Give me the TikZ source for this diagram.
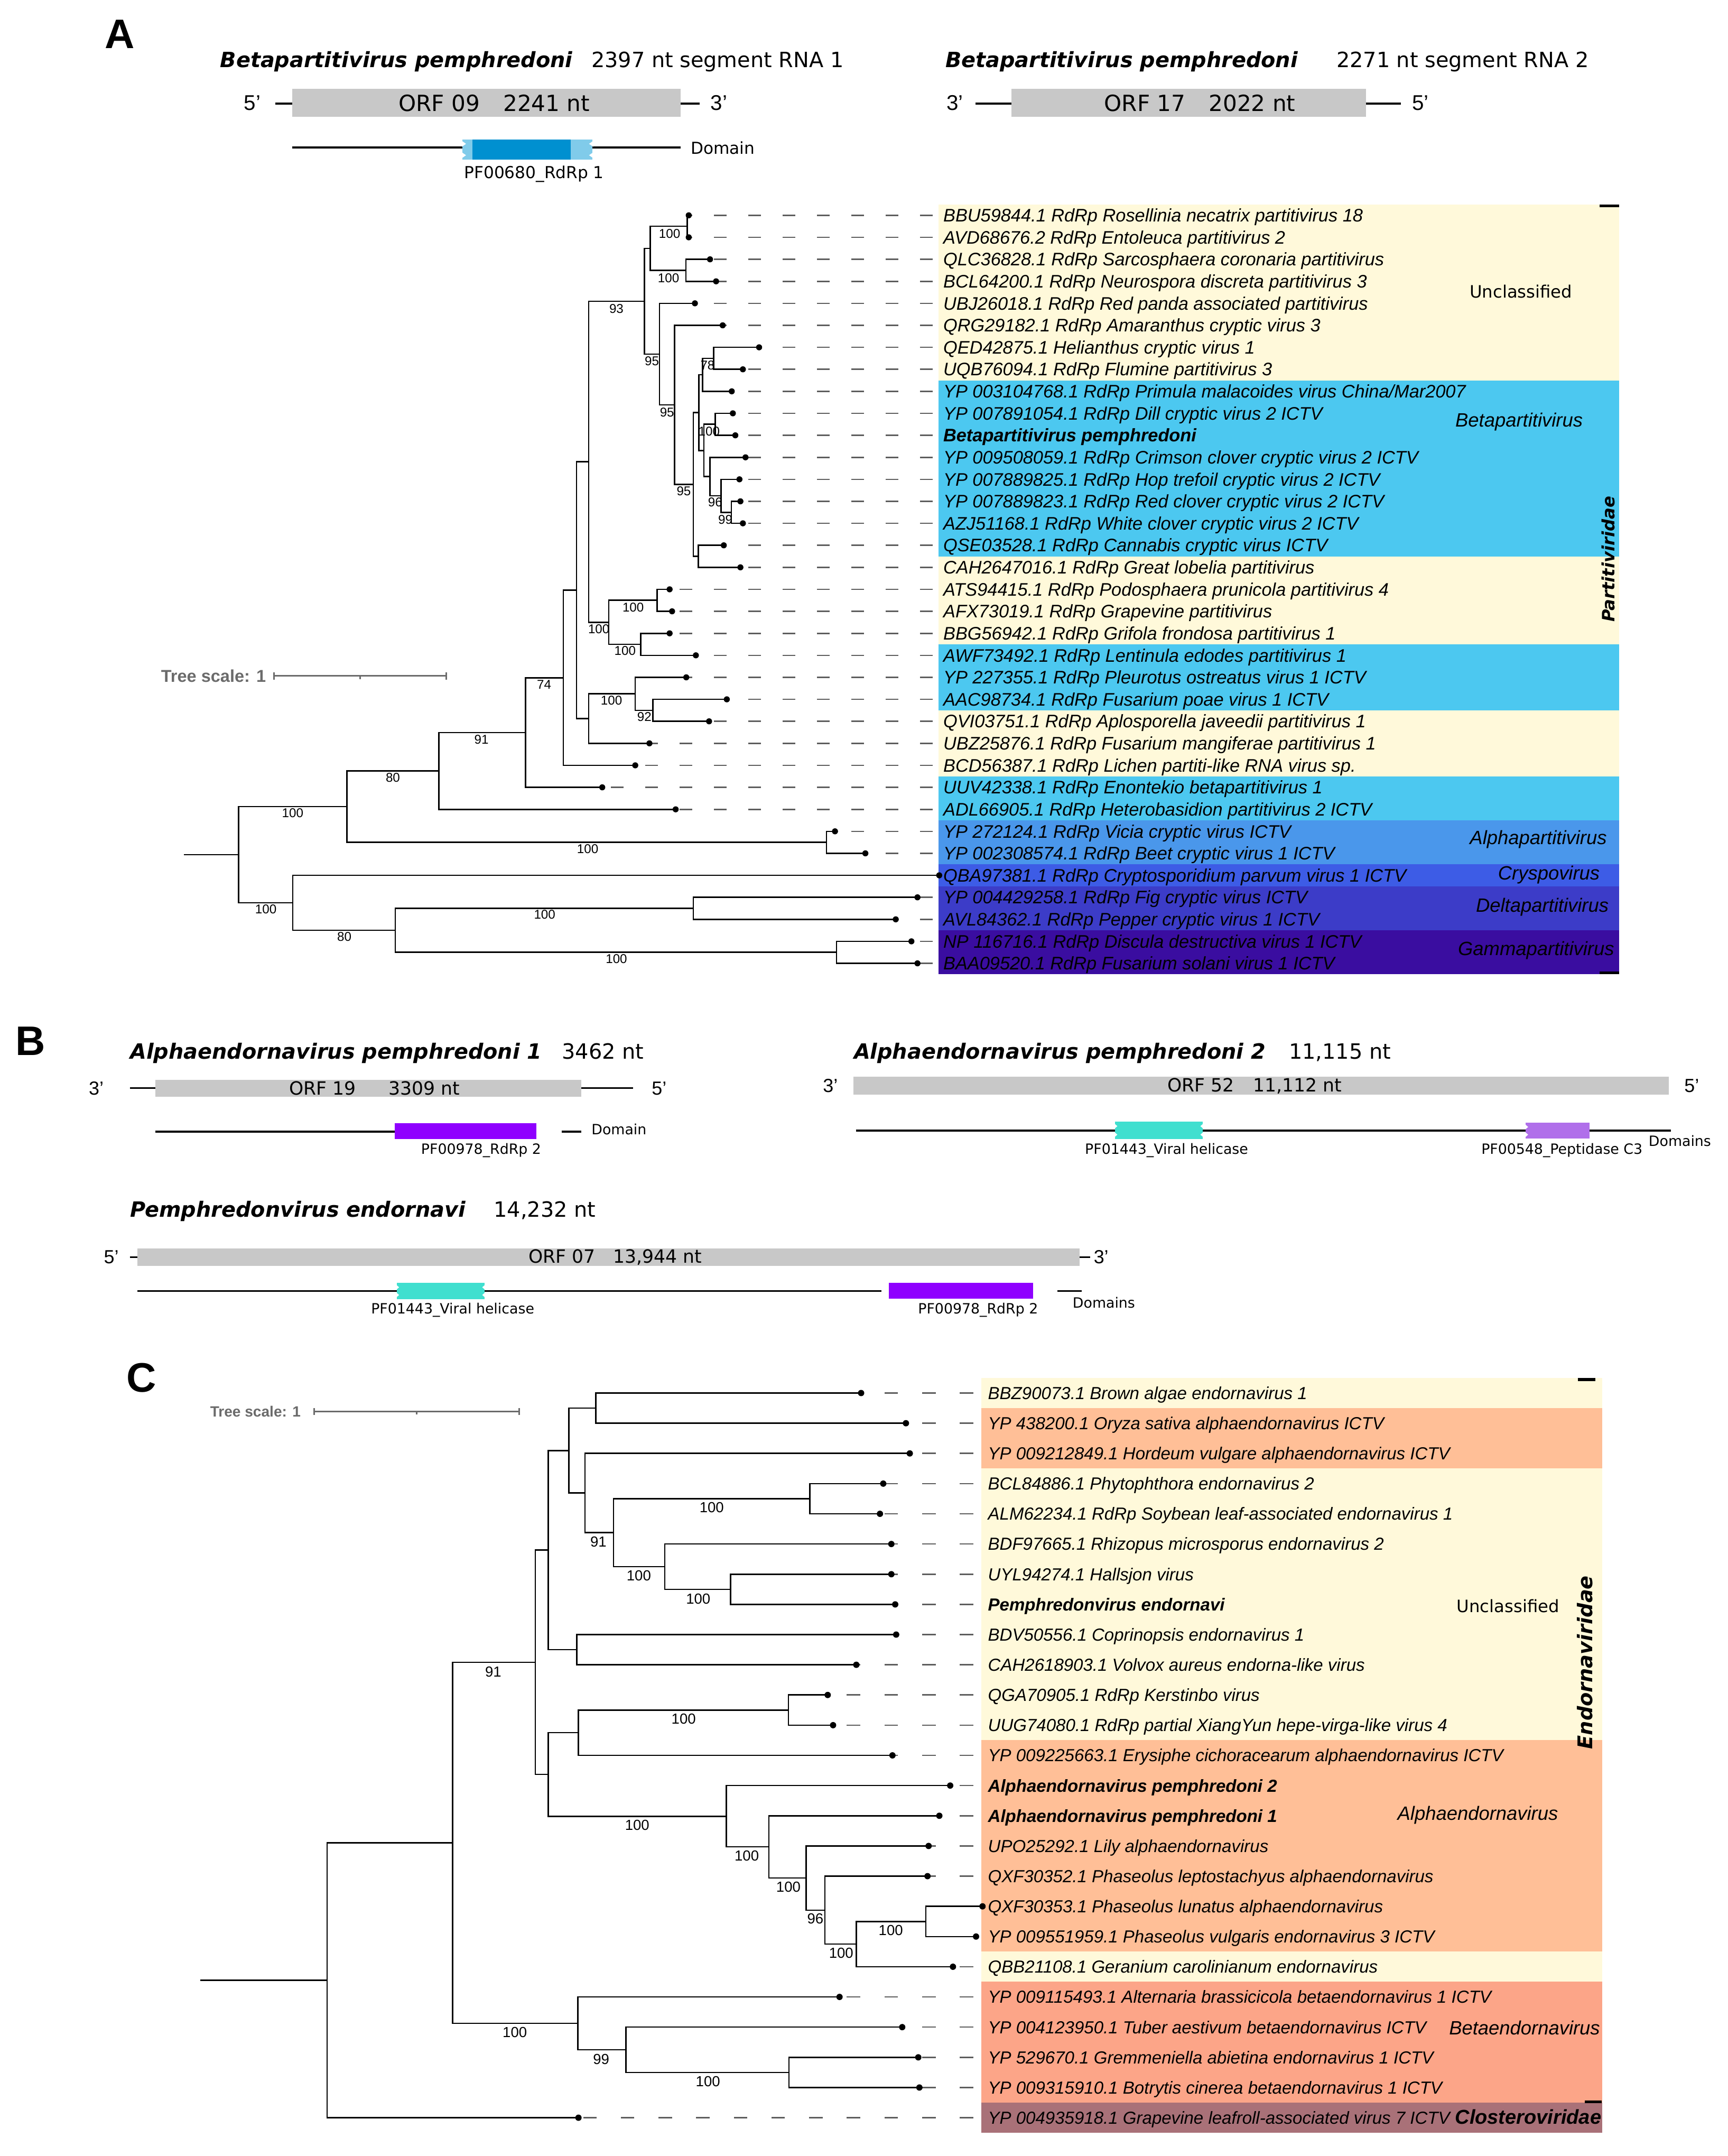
\documentclass[tikz,border=0pt]{standalone}
\usepackage{fontspec}
\setmainfont{Liberation Sans}
\newfontfamily\dvs{DejaVu Sans}
\newcommand\fsz[1]{\fontsize{#1}{#1}\selectfont}
\usetikzlibrary{calc}
\definecolor{cream}{HTML}{FFF9DA}
\definecolor{cyanb}{HTML}{4CC8F0}
\definecolor{alphab}{HTML}{4A97EB}
\definecolor{cryspob}{HTML}{3D5CE6}
\definecolor{deltab}{HTML}{3C3CC8}
\definecolor{gammab}{HTML}{3A0DA0}
\definecolor{orangeb}{HTML}{FFBF97}
\definecolor{salmonb}{HTML}{FCA588}
\definecolor{closb}{HTML}{A97178}
\definecolor{orfgray}{HTML}{C8C8C8}
\definecolor{rdrp}{HTML}{8F00FF}
\definecolor{helic}{HTML}{40DFCF}
\definecolor{pept}{HTML}{B06FEA}
\definecolor{pfblue}{HTML}{0090D0}
\definecolor{pflight}{HTML}{80CBEA}
\definecolor{dashgray}{HTML}{5E5E5E}
\definecolor{scgray}{HTML}{6B6B6B}
\begin{document}
\begin{tikzpicture}[x=1pt,y=-1pt,
  br/.style={line width=1pt},
  ldrA/.style={draw=dashgray, line width=1pt, dash pattern=on 9.2pt off 15.8pt},
  ldrC/.style={draw=dashgray, line width=1pt, dash pattern=on 9.8pt off 17.6pt},
  lblA/.style={anchor=base west, inner sep=0pt, font=\fsz{13.2}\itshape},
  lblC/.style={anchor=base west, inner sep=0pt, font=\fsz{12.7}\itshape},
  bsA/.style={inner sep=0pt, font=\fsz{9.3}},
  bsC/.style={inner sep=0pt, font=\fsz{10.6}},
  clade/.style={inner sep=0pt, font=\fsz{14}\itshape},
  uncl/.style={inner sep=0pt, font=\dvs\fsz{12.4}},
  hdr/.style={anchor=base west, inner sep=0pt, font=\dvs\fsz{15.3}},
  hdrb/.style={anchor=base west, inner sep=0pt, font=\dvs\fsz{15.3}\bfseries\itshape},
  orftA/.style={inner sep=0pt, font=\dvs\fsz{16.2}},
  orftB/.style={inner sep=0pt, font=\dvs\fsz{13.3}},
  primeA/.style={inner sep=0pt, font=\fsz{15.5}},
  primeB/.style={inner sep=0pt, font=\fsz{13.8}},
  domA/.style={inner sep=0pt, font=\dvs\fsz{12}},
  domB/.style={inner sep=0pt, font=\dvs\fsz{10.3}},
  letter/.style={inner sep=0pt, font=\fsz{30}\bfseries},
  scbar/.style={draw=scgray, line width=1.2pt},
  trk/.style={line width=1.6pt},
  trkB/.style={line width=1.3pt},
  notch/.style={fill=white},
]
\fill[white] (0,0) rectangle (1257,1568);
\useasboundingbox (0,0) rectangle (1257,1568);

%================ A header =================
\node[letter] (letA) at (87,25) {A};
\node[hdrb] (hA1) at (160,49.2) {Betapartitivirus pemphredoni};
\node[hdr] (hA2) at (430,49.2) {2397 nt segment RNA 1};
\node[hdrb] (hA3) at (687.5,49.2) {Betapartitivirus pemphredoni};
\node[hdr] (hA4) at (972,49.2) {2271 nt segment RNA 2};
% ORF 09
\fill[orfgray] (212.4,64.5) rectangle (495.2,85);
\draw[trk] (200.4,75.4) -- (212.4,75.4);
\draw[trk] (495.2,75.4) -- (508.8,75.4);
\node[primeA] (p5a) at (183.5,74.8) {5'};
\node[primeA] (p3a) at (523,74.8) {3'};
\node[orftA] (orf09) at (359.5,75) {ORF 09\hspace{17pt}2241 nt};
% ORF 17
\fill[orfgray] (735.6,64.5) rectangle (993.5,85);
\draw[trk] (709.6,75.4) -- (735.6,75.4);
\draw[trk] (993.5,75.4) -- (1019,75.4);
\node[primeA] (p3b) at (694.6,74.8) {3'};
\node[primeA] (p5b) at (1033.3,74.8) {5'};
\node[orftA] (orf17) at (872.8,75) {ORF 17\hspace{17pt}2022 nt};
% domain
\draw[trk] (212.4,107.1) -- (495.2,107.1);
\fill[pflight] (336.5,101.5) rectangle (431,116);
\fill[pfblue] (343.5,101.5) rectangle (415,116);
\fill[notch] (336,102.5) -- (339,104.6) -- (336,106.7) -- cycle;
\fill[notch] (336,110.8) -- (339,112.9) -- (336,115) -- cycle;
\fill[notch] (431.5,102.5) -- (428.5,104.6) -- (431.5,106.7) -- cycle;
\fill[notch] (431.5,110.8) -- (428.5,112.9) -- (431.5,115) -- cycle;
\node[domA] (dA1) at (525.7,107.6) {Domain};
\node[domA] (dA2) at (388.5,126.5) {PF00680\_RdRp 1};

%================ Tree A bands =================
\fill[cream]   (682.8,148.6) rectangle (1178,276.6);
\fill[cyanb]   (682.8,276.6) rectangle (1178,404.6);
\fill[cream]   (682.8,404.6) rectangle (1178,468.6);
\fill[cyanb]   (682.8,468.6) rectangle (1178,516.6);
\fill[cream]   (682.8,516.6) rectangle (1178,564.6);
\fill[cyanb]   (682.8,564.6) rectangle (1178,596.6);
\fill[alphab]  (682.8,596.6) rectangle (1178,628.6);
\fill[cryspob] (682.8,628.6) rectangle (1178,644.6);
\fill[deltab]  (682.8,644.6) rectangle (1178,676.6);
\fill[gammab]  (682.8,676.6) rectangle (1178,708.6);
\draw[line width=2pt] (1163.5,149.6) -- (1178,149.6);
\draw[line width=2pt] (1163.5,707.4) -- (1178,707.4);

\node[uncl] (clA1) at (1106.4,212) {Unclassified};
\node[clade] (clA2) at (1105,306.9) {Betapartitivirus};
\node[clade] (clA3) at (1119,610.4) {Alphapartitivirus};
\node[clade] (clA4) at (1126.7,636.2) {Cryspovirus};
\node[clade] (clA5) at (1121.9,659.8) {Deltapartitivirus};
\node[clade] (clA6) at (1117.4,691) {Gammapartitivirus};
\node[inner sep=0pt, font=\dvs\fsz{12.4}\bfseries\itshape, rotate=90] (famA) at (1170,406.7) {Partitiviridae};

% tree scale A
\node[anchor=west, inner sep=0pt, text=scgray, font=\fsz{12.5}\bfseries] (tsA) at (117,491.6) {Tree scale: 1};
\draw[scbar] (199.4,491.6) -- (324.5,491.6);
\draw[scbar] (199.4,489) -- (199.4,494.2);
\draw[scbar] (324.5,489) -- (324.5,494.2);
\draw[scbar] (262,491.6) -- (262,493.8);

%================ Tree A tips =================
\foreach \i/\tx/\txt in {
1/501/{BBU59844.1 RdRp Rosellinia necatrix partitivirus 18},
2/501/{AVD68676.2 RdRp Entoleuca partitivirus 2},
3/516.5/{QLC36828.1 RdRp Sarcosphaera coronaria partitivirus},
4/520.9/{BCL64200.1 RdRp Neurospora discreta partitivirus 3},
5/505.5/{UBJ26018.1 RdRp Red panda associated partitivirus},
6/525.7/{QRG29182.1 RdRp Amaranthus cryptic virus 3},
7/552.2/{QED42875.1 Helianthus cryptic virus 1},
8/540.4/{UQB76094.1 RdRp Flumine partitivirus 3},
9/532.3/{YP 003104768.1 RdRp Primula malacoides virus China/Mar2007},
10/533.1/{YP 007891054.1 RdRp Dill cryptic virus 2 ICTV},
11/534.9/{\bfseries Betapartitivirus pemphredoni},
12/542.3/{YP 009508059.1 RdRp Crimson clover cryptic virus 2 ICTV},
13/537.9/{YP 007889825.1 RdRp Hop trefoil cryptic virus 2 ICTV},
14/538.6/{YP 007889823.1 RdRp Red clover cryptic virus 2 ICTV},
15/540.4/{AZJ51168.1 RdRp White clover cryptic virus 2 ICTV},
16/526.5/{QSE03528.1 RdRp Cannabis cryptic virus ICTV},
17/538.6/{CAH2647016.1 RdRp Great lobelia partitivirus},
18/487.1/{ATS94415.1 RdRp Podosphaera prunicola partitivirus 4},
19/488.9/{AFX73019.1 RdRp Grapevine partitivirus},
20/487.1/{BBG56942.1 RdRp Grifola frondosa partitivirus 1},
21/506.2/{AWF73492.1 RdRp Lentinula edodes partitivirus 1},
22/499.2/{YP 227355.1 RdRp Pleurotus ostreatus virus 1 ICTV},
23/528.7/{AAC98734.1 RdRp Fusarium poae virus 1 ICTV},
24/515.8/{QVI03751.1 RdRp Aplosporella javeedii partitivirus 1},
25/472.4/{UBZ25876.1 RdRp Fusarium mangiferae partitivirus 1},
26/462.1/{BCD56387.1 RdRp Lichen partiti-like RNA virus sp.},
27/438.1/{UUV42338.1 RdRp Enontekio betapartitivirus 1},
28/491.5/{ADL66905.1 RdRp Heterobasidion partitivirus 2 ICTV},
29/607.4/{YP 272124.1 RdRp Vicia cryptic virus ICTV},
30/629.5/{YP 002308574.1 RdRp Beet cryptic virus 1 ICTV},
31/683.2/{QBA97381.1 RdRp Cryptosporidium parvum virus 1 ICTV},
32/667.4/{YP 004429258.1 RdRp Fig cryptic virus ICTV},
33/651.6/{AVL84362.1 RdRp Pepper cryptic virus 1 ICTV},
34/663/{NP 116716.1 RdRp Discula destructiva virus 1 ICTV},
35/667.4/{BAA09520.1 RdRp Fusarium solani virus 1 ICTV}}{
  \pgfmathsetmacro\yy{156.6+16*(\i-1)}
  \coordinate (tA\i) at (\tx,\yy);
  \node[lblA] (LA\i) at (686,\yy+4.7) {\txt};
}
\foreach \i in {1,...,30,32,33,34,35}
  \draw[ldrA] ([xshift=-7.5pt]LA\i.west |- tA\i) -- (tA\i);

% internal nodes A
\coordinate (n12) at (500,164.6);
\coordinate (n34) at (498.9,196.6);
\coordinate (n1234) at (473.1,180.6);
\coordinate (n1097) at (519.1,260.6);
\coordinate (n1075) at (511,272.6);
\coordinate (n1100) at (520.2,308.6);
\coordinate (n1132) at (532,372.6);
\coordinate (n1112) at (524.6,360.6);
\coordinate (n1090) at (516.5,346.6);
\coordinate (n1078) at (512.1,327.6);
\coordinate (n1068) at (508.4,300.1);
\coordinate (n1067) at (508.1,404.6);
\coordinate (n1057) at (504.4,352.35);
\coordinate (n1020) at (490.8,294.5);
\coordinate (n990) at (479.7,257.5);
\coordinate (n960) at (468.7,219.1);
\coordinate (n985) at (477.9,436.6);
\coordinate (n953) at (466.1,468.6);
\coordinate (n890) at (442.9,452.6);
\coordinate (n850) at (428.2,335.85);
\coordinate (n977) at (474.9,516.6);
\coordinate (n942) at (462.1,504.6);
\coordinate (n850b) at (428.2,522.6);
\coordinate (n826) at (419.4,429.2);
\coordinate (n800) at (409.8,492.9);
\coordinate (n725) at (382.2,532.75);
\coordinate (n554) at (319.3,560.7);
\coordinate (n1320) at (601.2,612.6);
\coordinate (n372) at (252.3,586.6);
\coordinate (n1057b) at (504.4,660.6);
\coordinate (n1340) at (608.5,692.6);
\coordinate (n468) at (287.6,676.6);
\coordinate (n265) at (212.9,656.6);
\coordinate (n158) at (173.5,621.6);
\coordinate (rootA) at (133.8,621.6);

\foreach \p/\c in {n12/tA1, n12/tA2, n34/tA3, n34/tA4, n1234/n12, n1234/n34,
  n1097/tA7, n1097/tA8, n1075/n1097, n1075/tA9, n1100/tA10, n1100/tA11,
  n1132/tA14, n1132/tA15, n1112/tA13, n1112/n1132, n1090/tA12, n1090/n1112,
  n1078/n1100, n1078/n1090, n1068/n1075, n1068/n1078, n1067/tA16, n1067/tA17,
  n1057/n1068, n1057/n1067, n1020/tA6, n1020/n1057, n990/tA5, n990/n1020,
  n960/n1234, n960/n990, n985/tA18, n985/tA19, n953/tA20, n953/tA21,
  n890/n985, n890/n953, n850/n960, n850/n890, n977/tA23, n977/tA24,
  n942/tA22, n942/n977, n850b/n942, n850b/tA25, n826/n850, n826/n850b,
  n800/n826, n800/tA26, n725/n800, n725/tA27, n554/n725, n554/tA28,
  n1320/tA29, n1320/tA30, n372/n554, n372/n1320, n1057b/tA32, n1057b/tA33,
  n1340/tA34, n1340/tA35, n468/n1057b, n468/n1340, n265/tA31, n265/n468,
  n158/n372, n158/n265}
  \draw[br] (\p) |- (\c);
\draw[br] (rootA) -- (n158);
\foreach \i in {1,...,35} \fill (tA\i) circle (2.2pt);

\foreach \x/\y/\t [count=\k] in {487.1/170/100, 486.3/202.3/100, 448.4/224.7/93,
  474.2/262.6/95, 514.7/265.5/78, 485.2/299.9/95, 515.8/313.8/100, 497.4/357.2/95,
  520.2/365.2/96, 527.6/377.8/99, 460.6/441.7/100, 435.6/457.6/100, 454.7/473.4/100,
  395.8/497.7/74, 444.8/509.4/100, 468.7/521.3/92, 350.2/537.7/91, 285.8/565.7/80,
  212.9/591.4/100, 427.5/617.3/100, 193.4/661.3/100, 396.2/665.1/100, 250.5/681.3/80,
  448.4/697.2/100}
  \node[bsA] (bsa\k) at (\x,\y) {\t};

%================ B =================
\node[letter] (letB) at (22,757) {B};
\node[hdrb] (hB1) at (94.5,770) {Alphaendornavirus pemphredoni 1};
\node[hdr] (hB2) at (408.6,770) {3462 nt};
\node[hdrb] (hB3) at (621,770) {Alphaendornavirus pemphredoni 2};
\node[hdr] (hB4) at (937.5,770) {11,115 nt};
\node[hdrb] (hB5) at (94.5,885) {Pemphredonvirus endornavi};
\node[hdr] (hB6) at (359,885) {14,232 nt};

% ORF 19
\fill[orfgray] (113,785.2) rectangle (423,797.6);
\draw[trkB] (94.5,791.4) -- (113,791.4);
\draw[trkB] (423,791.4) -- (460.7,791.4);
\node[primeB] (p3c) at (70,791.5) {3'};
\node[primeB] (p5c) at (479.5,791.5) {5'};
\node[orftB] (orf19a) at (234.8,791.5) {ORF 19};
\node[orftB] (orf19b) at (308.5,791.5) {3309 nt};
\draw[trkB] (113,823) -- (287,823);
\fill[rdrp] (287,817) rectangle (390,828.4);
\draw[trkB] (408.6,823) -- (423,823);
\node[domB] (dB1) at (450.3,821.2) {Domain};
\node[domB] (dB2) at (350,836.7) {PF00978\_RdRp 2};

% ORF 52
\fill[orfgray] (621,783) rectangle (1214,796);
\node[primeB] (p3d) at (604,789.5) {3'};
\node[primeB] (p5d) at (1230.6,789.5) {5'};
\node[orftB] (orf52) at (912.7,790) {ORF 52\hspace{14pt}11,112 nt};
\draw[trkB] (622.6,822.3) -- (1215.6,822.3);
\fill[helic] (811,815.8) rectangle (875,828.2);
\fill[notch] (810.5,817) -- (812.8,819) -- (810.5,821) -- cycle;
\fill[notch] (810.5,823.2) -- (812.8,825.2) -- (810.5,827.2) -- cycle;
\fill[notch] (875.5,817) -- (873.2,819) -- (875.5,821) -- cycle;
\fill[notch] (875.5,823.2) -- (873.2,825.2) -- (875.5,827.2) -- cycle;
\fill[pept] (1109.8,816.5) rectangle (1156.3,828);
\fill[notch] (1109.3,817.6) -- (1111.6,819.6) -- (1109.3,821.6) -- cycle;
\fill[notch] (1109.3,823.2) -- (1111.6,825.2) -- (1109.3,827.2) -- cycle;
\node[domB] (dB3) at (1222,829.6) {Domains};
\node[domB] (dB4) at (848.6,836.7) {PF01443\_Viral helicase};
\node[domB] (dB5) at (1136.2,836.7) {PF00548\_Peptidase C3};

% ORF 07
\fill[orfgray] (100,907.9) rectangle (785.3,920.5);
\draw[trkB] (94.5,914.2) -- (100,914.2);
\draw[trkB] (785.3,914.2) -- (793,914.2);
\node[primeB] (p5e) at (81,914.3) {5'};
\node[primeB] (p3e) at (801,914.3) {3'};
\node[orftB] (orf07) at (447.5,914.3) {ORF 07\hspace{13pt}13,944 nt};
\draw[trkB] (100,939) -- (641,939);
\fill[helic] (288.5,933) rectangle (352.6,944.8);
\fill[notch] (288,934.2) -- (290.3,936.2) -- (288,938.2) -- cycle;
\fill[notch] (288,939.8) -- (290.3,941.8) -- (288,943.8) -- cycle;
\fill[notch] (353.1,934.2) -- (350.8,936.2) -- (353.1,938.2) -- cycle;
\fill[notch] (353.1,939.8) -- (350.8,941.8) -- (353.1,943.8) -- cycle;
\fill[rdrp] (646.6,933) rectangle (751.6,944.6);
\draw[trkB] (769,939) -- (787,939);
\node[domB] (dB6) at (803,947.4) {Domains};
\node[domB] (dB7) at (329.3,952.7) {PF01443\_Viral helicase};
\node[domB] (dB8) at (711.5,952.7) {PF00978\_RdRp 2};

%================ C =================
\node[letter] (letC) at (103,1002) {C};
\node[anchor=west, inner sep=0pt, text=scgray, font=\fsz{10.8}\bfseries] (tsC) at (152.7,1026.7) {Tree scale: 1};
\draw[scbar] (228.5,1026.7) -- (377.7,1026.7);
\draw[scbar] (228.5,1024.2) -- (228.5,1029.2);
\draw[scbar] (377.7,1024.2) -- (377.7,1029.2);
\draw[scbar] (303,1026.7) -- (303,1028.8);

\fill[cream]   (714,1002.1) rectangle (1165.4,1024.1);
\fill[orangeb] (714,1024.1) rectangle (1165.4,1068);
\fill[cream]   (714,1068) rectangle (1165.4,1265.6);
\fill[orangeb] (714,1265.6) rectangle (1165.4,1419.4);
\fill[cream]   (714,1419.4) rectangle (1165.4,1441.3);
\fill[salmonb] (714,1441.3) rectangle (1165.4,1529.2);
\fill[closb]   (714,1529.2) rectangle (1165.4,1551.1);
\draw[line width=2pt] (1147.7,1003.3) -- (1160.4,1003.3);
\draw[line width=2pt] (1153,1528.5) -- (1165,1528.5);

\node[uncl] (clC1) at (1097,1168) {Unclassified};
\node[clade] (clC2) at (1075,1319.9) {Alphaendornavirus};
\node[clade] (clC3) at (1109,1474.6) {Betaendornavirus};
\node[inner sep=0pt, font=\fsz{14.6}\bfseries\itshape, anchor=east] (clC4) at (1165,1539.6) {Closteroviridae};
\node[inner sep=0pt, font=\dvs\fsz{14.7}\bfseries\itshape, rotate=90] (famC) at (1153,1209) {Endornaviridae};

\foreach \i/\tx/\txt in {
1/626.4/{BBZ90073.1 Brown algae endornavirus 1},
2/659/{YP 438200.1 Oryza sativa alphaendornavirus ICTV},
3/661.8/{YP 009212849.1 Hordeum vulgare alphaendornavirus ICTV},
4/642.5/{BCL84886.1 Phytophthora endornavirus 2},
5/640.1/{ALM62234.1 RdRp Soybean leaf-associated endornavirus 1},
6/648.4/{BDF97665.1 Rhizopus microsporus endornavirus 2},
7/648.4/{UYL94274.1 Hallsjon virus},
8/651.2/{\bfseries Pemphredonvirus endornavi},
9/651.9/{BDV50556.1 Coprinopsis endornavirus 1},
10/622.9/{CAH2618903.1 Volvox aureus endorna-like virus},
11/602.1/{QGA70905.1 RdRp Kerstinbo virus},
12/606/{UUG74080.1 RdRp partial XiangYun hepe-virga-like virus 4},
13/649.2/{YP 009225663.1 Erysiphe cichoracearum alphaendornavirus ICTV},
14/691.2/{\bfseries Alphaendornavirus pemphredoni 2},
15/683.3/{\bfseries Alphaendornavirus pemphredoni 1},
16/675.5/{UPO25292.1 Lily alphaendornavirus},
17/674.7/{QXF30352.1 Phaseolus leptostachyus alphaendornavirus},
18/714.7/{QXF30353.1 Phaseolus lunatus alphaendornavirus},
19/710/{YP 009551959.1 Phaseolus vulgaris endornavirus 3 ICTV},
20/693.2/{QBB21108.1 Geranium carolinianum endornavirus},
21/610.7/{YP 009115493.1 Alternaria brassicicola betaendornavirus 1 ICTV},
22/656.3/{YP 004123950.1 Tuber aestivum betaendornavirus ICTV},
23/668/{YP 529670.1 Gremmeniella abietina endornavirus 1 ICTV},
24/668.8/{YP 009315910.1 Botrytis cinerea betaendornavirus 1 ICTV},
25/420.8/{YP 004935918.1 Grapevine leafroll-associated virus 7 ICTV}}{
  \pgfmathsetmacro\yy{1013.1+21.96*(\i-1)}
  \coordinate (tC\i) at (\tx,\yy);
  \node[lblC] (LC\i) at (718.5,\yy+4.55) {\txt};
}
\foreach \i in {1,...,17,20,21,22,23,24,25}
  \draw[ldrC] ([xshift=-10.5pt]LC\i.west |- tC\i) -- (tC\i);

\coordinate (c810) at (433.3,1024.08);
\coordinate (c1207) at (589.1,1089.96);
\coordinate (c1060) at (531.5,1155.84);
\coordinate (c938) at (483.6,1139.37);
\coordinate (c843) at (446.3,1114.67);
\coordinate (c790) at (425.5,1085.84);
\coordinate (c760) at (413.7,1054.96);
\coordinate (c775) at (419.6,1199.76);
\coordinate (c722) at (398.8,1127.36);
\coordinate (c1167) at (573.5,1243.68);
\coordinate (c778) at (420.8,1260.15);
\coordinate (c1422) at (673.5,1397.4);
\coordinate (c1293) at (622.9,1413.87);
\coordinate (c1235) at (600.1,1389.17);
\coordinate (c1200) at (586.4,1365.8);
\coordinate (c1131) at (559.3,1343.17);
\coordinate (c1052) at (528.3,1320.9);
\coordinate (c722b) at (398.8,1290.5);
\coordinate (c698) at (389.4,1208.9);
\coordinate (c1168) at (573.9,1507.2);
\coordinate (c866) at (455.3,1490.73);
\coordinate (c777) at (420.4,1471.5);
\coordinate (c545) at (329.3,1340.2);
\coordinate (c312) at (237.9,1440.2);
\coordinate (rootC) at (145.6,1440.2);

\foreach \p/\c in {c810/tC1, c810/tC2, c1207/tC4, c1207/tC5, c1060/tC7, c1060/tC8,
  c938/tC6, c938/c1060, c843/c1207, c843/c938, c790/tC3, c790/c843, c760/c810, c760/c790,
  c775/tC9, c775/tC10, c722/c760, c722/c775, c1167/tC11, c1167/tC12, c778/c1167, c778/tC13,
  c1422/tC18, c1422/tC19, c1293/c1422, c1293/tC20, c1235/tC17, c1235/c1293,
  c1200/tC16, c1200/c1235, c1131/tC15, c1131/c1200, c1052/tC14, c1052/c1131,
  c722b/c778, c722b/c1052, c698/c722, c698/c722b, c1168/tC23, c1168/tC24,
  c866/tC22, c866/c1168, c777/tC21, c777/c866, c545/c698, c545/c777, c312/c545, c312/tC25}
  \draw[br] (\p) |- (\c);
\draw[br] (rootC) -- (c312);
\foreach \i in {1,...,25} \fill (tC\i) circle (2.3pt);

\foreach \x/\y/\t [count=\k] in {517.7/1096.5/100, 435.3/1121.2/91, 464.7/1145.9/100,
  507.9/1162.7/100, 358.8/1215.7/91, 497.3/1250.1/100, 463.5/1327.5/100, 543.2/1349.5/100,
  573.5/1372.4/100, 593.1/1395.3/96, 611.9/1420.2/100, 648/1403.9/100, 374.5/1478.1/100,
  437.3/1497.5/99, 515/1513.8/100}
  \node[bsC] (bsc\k) at (\x,\y) {\t};
\end{tikzpicture}
\end{document}
